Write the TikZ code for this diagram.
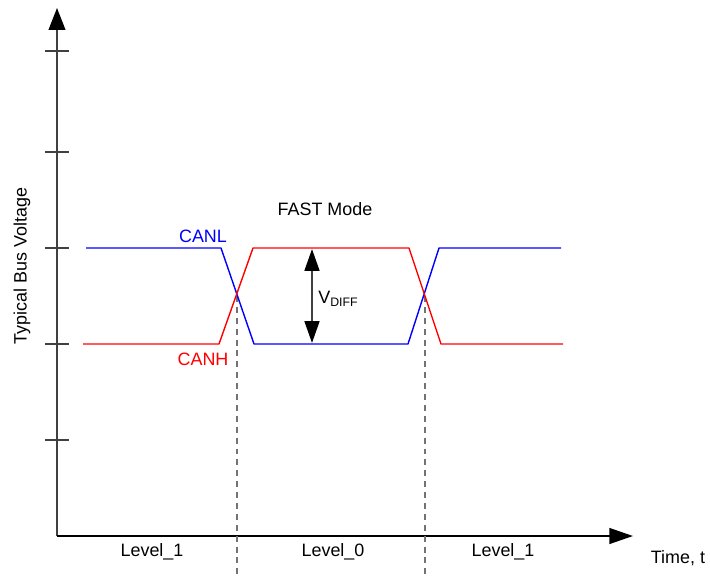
\documentclass[tikz,border=0pt]{standalone}
\usepackage{fontspec}
\setmainfont{Liberation Sans}
\usetikzlibrary{positioning,arrows.meta,calc}
\definecolor{canlblue}{HTML}{0000FF}
\definecolor{canhred}{HTML}{FF0000}
\definecolor{axisgray}{HTML}{404040}

\begin{document}
\begin{tikzpicture}[x=0.02cm, y=-0.02cm,
    every node/.style={font=\fontsize{10.2}{12}\selectfont, inner sep=0pt},
    axisline/.style={draw=axisgray, line width=1.1pt},
    signal/.style={line width=0.8pt, line join=round},
    levelmark/.style={draw=gray!90!black, line width=0.8pt, dash pattern=on 3.4pt off 2.8pt}]
    \useasboundingbox (0,0) rectangle (710,578);

    % Axes
    \coordinate (origin) at (57,536);
    \coordinate (ytop) at (57,8);
    \coordinate (xend) at (633,536);
    \draw[axisline, -{Triangle[length=12.5pt, width=9.5pt, color=black]}] (origin) -- (ytop);
    \draw[line width=1.1pt, -{Triangle[length=13.5pt, width=9pt]}] (origin) -- (xend);

    % Ticks on the voltage axis
    \foreach \y in {51,152,248,344,440} {
        \draw[axisgray, line width=0.8pt] (45,\y) -- (69,\y);
    }

    % Axis labels
    \node[rotate=90] (vlabel) at (22,266) {Typical Bus Voltage};
    \node (tlabel) at (678,558) {Time, t};

    % Crossing points and level separators
    \coordinate (cross1) at (237,296);
    \coordinate (cross2) at (425,296);
    \coordinate (foot1) at (237,578);
    \coordinate (foot2) at (425,578);
    \draw[levelmark] (cross1) -- (foot1);
    \draw[levelmark] (cross2) -- (foot2);

    % CANL - blue
    \draw[signal, canlblue] (86,248) -- (221,248) -- (254,344) -- (408,344)
        -- (439,248) -- (561,248);
    \node[canlblue] (canl) at (203,236) {CANL};

    % CANH - red
    \draw[signal, canhred] (83,344) -- (219,344) -- (253,248) -- (409,248)
        -- (441,344) -- (563,344);
    \node[canhred] (canh) at (203,359) {CANH};

    % Differential voltage
    \coordinate (vhigh) at (312,249);
    \coordinate (vlow) at (312,343);
    \draw[axisline, {Triangle[length=12.5pt, width=8.5pt, color=black]}-{Triangle[length=12.5pt, width=8.5pt, color=black]}]
        (vhigh) -- (vlow);
    \node[anchor=west] (vdiff) at (318,299) {V\textsubscript{\fontsize{7}{8}\selectfont DIFF}};

    \node (fast) at (325,209) {FAST Mode};

    % Bit levels
    \node (lvl1a) at (152,552) {Level\_1};
    \node (lvl0) at (333,552) {Level\_0};
    \node (lvl1b) at (503,552) {Level\_1};
\end{tikzpicture}
\end{document}
